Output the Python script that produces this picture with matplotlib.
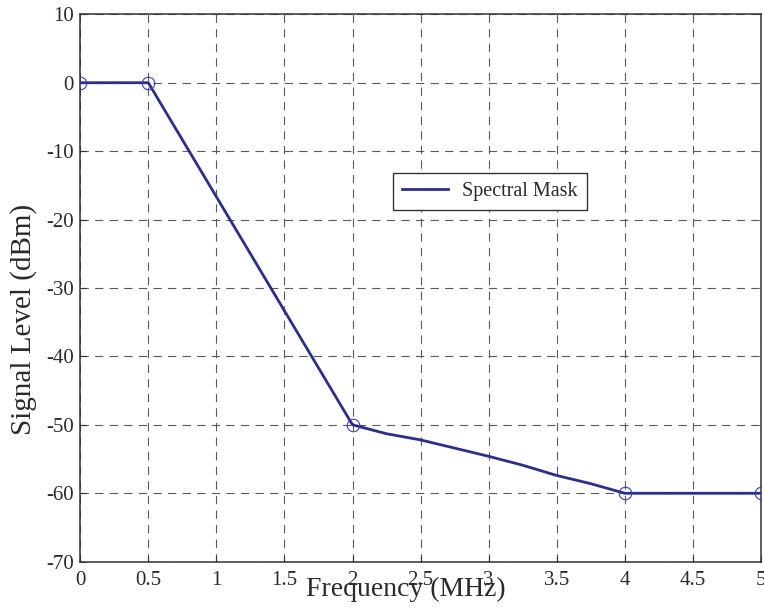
import matplotlib
matplotlib.use("Agg")
import matplotlib.pyplot as plt

# spectral mask
freq_mhz = [0, 0.5, 2, 2.25, 2.5, 2.75, 3, 3.25, 3.5, 3.75, 4, 5]
level_dbm = [0, 0, -50, -51.3, -52.2, -53.4, -54.6, -55.9, -57.4, -58.6, -60, -60]

# break points marked with circles
mark_freq = [0, 0.5, 2, 4, 5]
mark_level = [0, 0, -50, -60, -60]

x_ticks = [0, 0.5, 1, 1.5, 2, 2.5, 3, 3.5, 4, 4.5, 5]
x_tick_labels = ["0", "0.5", "1", "1.5", "2", "2.5", "3", "3.5", "4", "4.5", "5"]
y_ticks = [-70, -60, -50, -40, -30, -20, -10, 0, 10]

plt.rcParams["font.family"] = ["Liberation Serif", "DejaVu Serif"]
plt.rcParams["lines.scale_dashes"] = False
plt.rcParams["axes.unicode_minus"] = False

fig = plt.figure(figsize=(7.64, 6.13), dpi=100)
ax = fig.add_axes([0.105, 0.0837, 0.891, 0.893])

line_color = "#2B2E8C"
ax.plot(freq_mhz, level_dbm, color=line_color, lw=2.0, label="Spectral Mask", zorder=3)
ax.plot(mark_freq, mark_level, ls="none", marker="o", ms=9, mfc="none",
        mec="#3A3FB2", mew=0.8, zorder=4)

ax.set_xlim(0, 5)
ax.set_ylim(-70, 10)
ax.set_xticks(x_ticks)
ax.set_xticklabels(x_tick_labels)
ax.set_yticks(y_ticks)

ax.grid(True, color="#5a5a5a", lw=0.8, ls=(0, (6, 4.5)))
ax.set_axisbelow(True)

for sp in ax.spines.values():
    sp.set_color("#333333")
    sp.set_linewidth(1.1)

ax.tick_params(axis="both", direction="in", length=4, width=0.8, color="#333333",
               labelsize=15, labelcolor="#2a2a2a", top=False, right=False)
ax.tick_params(axis="x", pad=6.5)
ax.tick_params(axis="y", pad=4.5)

ax.set_xlabel("Frequency (MHz)", fontsize=20, color="#2a2a2a", va="baseline")
ax.xaxis.set_label_coords(0.478, -0.062)
ax.set_ylabel("Signal Level (dBm)", fontsize=21, color="#2a2a2a", va="center")
ax.yaxis.set_label_coords(-0.083, 0.442)

leg = ax.legend(loc="center", bbox_to_anchor=(0.6016, 0.676), fontsize=14.5,
                frameon=True, fancybox=False, shadow=False, framealpha=1,
                edgecolor="#333333", handlelength=2.3, handletextpad=0.7,
                borderpad=0.45, labelcolor="#2a2a2a")
leg.get_frame().set_linewidth(1.0)

fig.savefig("out.png", dpi=100)
